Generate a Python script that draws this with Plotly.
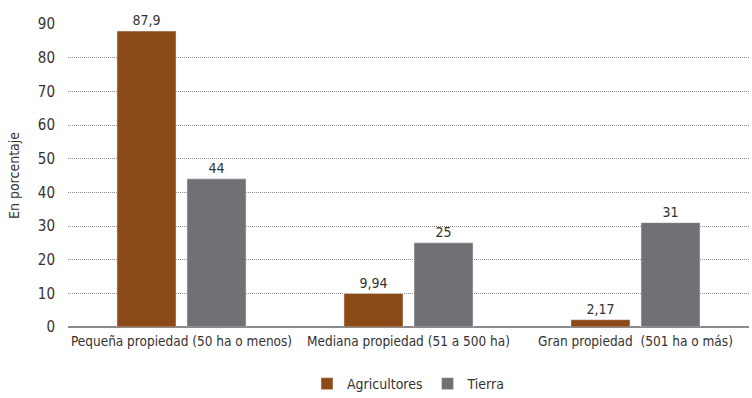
import plotly.graph_objects as go

categories = ["Pequeña propiedad (50 ha o menos)", "Mediana propiedad (51 a 500 ha)", "Gran propiedad  (501 ha o más)"]
agricultores = [87.9, 9.94, 2.17]
tierra = [44, 25, 31]
agri_labels = ["87,9", "9,94", "2,17"]
tierra_labels = ["44", "25", "31"]
y_ticks = [0, 10, 20, 30, 40, 50, 60, 70, 80, 90]

FONT = "DejaVu Sans Condensed, Liberation Sans Narrow, sans-serif"

fig = go.Figure()
fig.add_trace(go.Bar(name="Agricultores", x=categories, y=agricultores, text=agri_labels,
                     textposition="outside", marker_color="#8B4A17", cliponaxis=False,
                     textfont=dict(size=14, color="#333333")))
fig.add_trace(go.Bar(name="Tierra", x=categories, y=tierra, text=tierra_labels,
                     textposition="outside", marker_color="#717074", cliponaxis=False,
                     textfont=dict(size=14, color="#333333")))

fig.update_layout(
    width=752, height=398,
    margin=dict(l=68, r=3, t=24, b=71, autoexpand=False),
    paper_bgcolor="white", plot_bgcolor="white",
    font=dict(family=FONT, size=14, color="#333333"),
    barmode="group", bargap=0.383, bargroupgap=0.157,
    legend=dict(orientation="h", x=0.5, xanchor="center", yref="container", y=0.035,
                yanchor="middle", font=dict(size=14), traceorder="normal"),
    showlegend=True,
)
fig.update_xaxes(showline=False, ticks="", tickfont=dict(size=13.5), ticklabelstandoff=4)
fig.update_yaxes(range=[0, 90], tickvals=y_ticks, showgrid=True, gridcolor="#8a8a8a",
                 griddash="1px,1px", gridwidth=1, zeroline=True, zerolinecolor="#8a8a8a",
                 ticks="", ticklabelstandoff=12, tickfont=dict(size=15),
                 title=dict(text="En porcentaje", font=dict(size=14), standoff=14))

fig.write_html("out.html")
